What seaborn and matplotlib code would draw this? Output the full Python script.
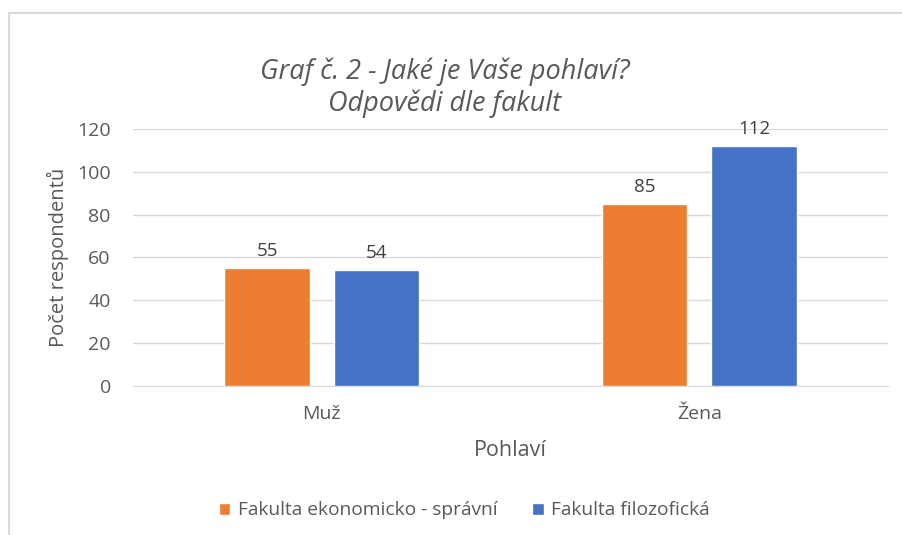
import matplotlib
matplotlib.use("Agg")
from matplotlib import pyplot as plt
from matplotlib.patches import Rectangle
import seaborn as sns
import pandas as pd

# data
pohlavi = ['Muž', 'Žena']
fakulty = ['Fakulta ekonomicko - správní', 'Fakulta filozofická']
fes = [55, 85]
ff = [54, 112]
barvy = ['#ED7D31', '#4472C4']

df = pd.DataFrame({
    'Pohlaví': pohlavi * 2,
    'Fakulta': [fakulty[0]] * 2 + [fakulty[1]] * 2,
    'Počet': fes + ff,
})

sns.set_style('white')
plt.rcParams['font.family'] = ['Open Sans', 'DejaVu Sans']
text_col = '#595959'

fig = plt.figure(figsize=(9.02, 5.35), dpi=100)
ax = fig.add_axes([0.1475, 0.2785, 0.837, 0.4804])

sns.barplot(data=df, x='Pohlaví', y='Počet', hue='Fakulta', order=pohlavi,
            hue_order=fakulty, palette=barvy, saturation=1, width=0.58,
            gap=0.22, ax=ax, legend=True, zorder=3)

for c in ax.containers:
    ax.bar_label(c, padding=6, fontsize=13.5, color='#404040')

ax.set_ylim(0, 120)
ax.set_yticks(range(0, 121, 20))
ax.grid(axis='y', color='#D9D9D9', linewidth=1, zorder=0)
ax.set_axisbelow(True)
for s in ['top', 'right', 'left']:
    ax.spines[s].set_visible(False)
ax.spines['bottom'].set_color('#D9D9D9')
ax.tick_params(axis='both', length=0, labelsize=14, labelcolor=text_col)
ax.tick_params(axis='y', pad=16)
ax.tick_params(axis='x', pad=14)
ax.set_ylabel('Počet respondentů', fontsize=14.5, color=text_col, labelpad=6)
ax.set_xlabel('Pohlaví', fontsize=15.5, color=text_col, labelpad=12)

ax.legend_.remove()
h, l = ax.get_legend_handles_labels()
fig.legend(h, l, loc='center', bbox_to_anchor=(0.515, 0.046), ncol=2,
           frameon=False, fontsize=13.8, labelcolor=text_col,
           handlelength=0.6, handleheight=0.6, handletextpad=0.4,
           columnspacing=1.8)

fig.text(0.493, 0.836, 'Graf č. 2 - Jaké je Vaše pohlaví?\nOdpovědi dle fakult',
         ha='center', va='center', fontsize=19.5, style='italic',
         color=text_col, linespacing=1.2)

# frame of the chart area
fig.patches.append(Rectangle((0.0095, -0.1), 1.2, 1.0757, transform=fig.transFigure,
                             fill=False, edgecolor='#D9D9D9', linewidth=1.5))

fig.savefig('out.png', dpi=100)
